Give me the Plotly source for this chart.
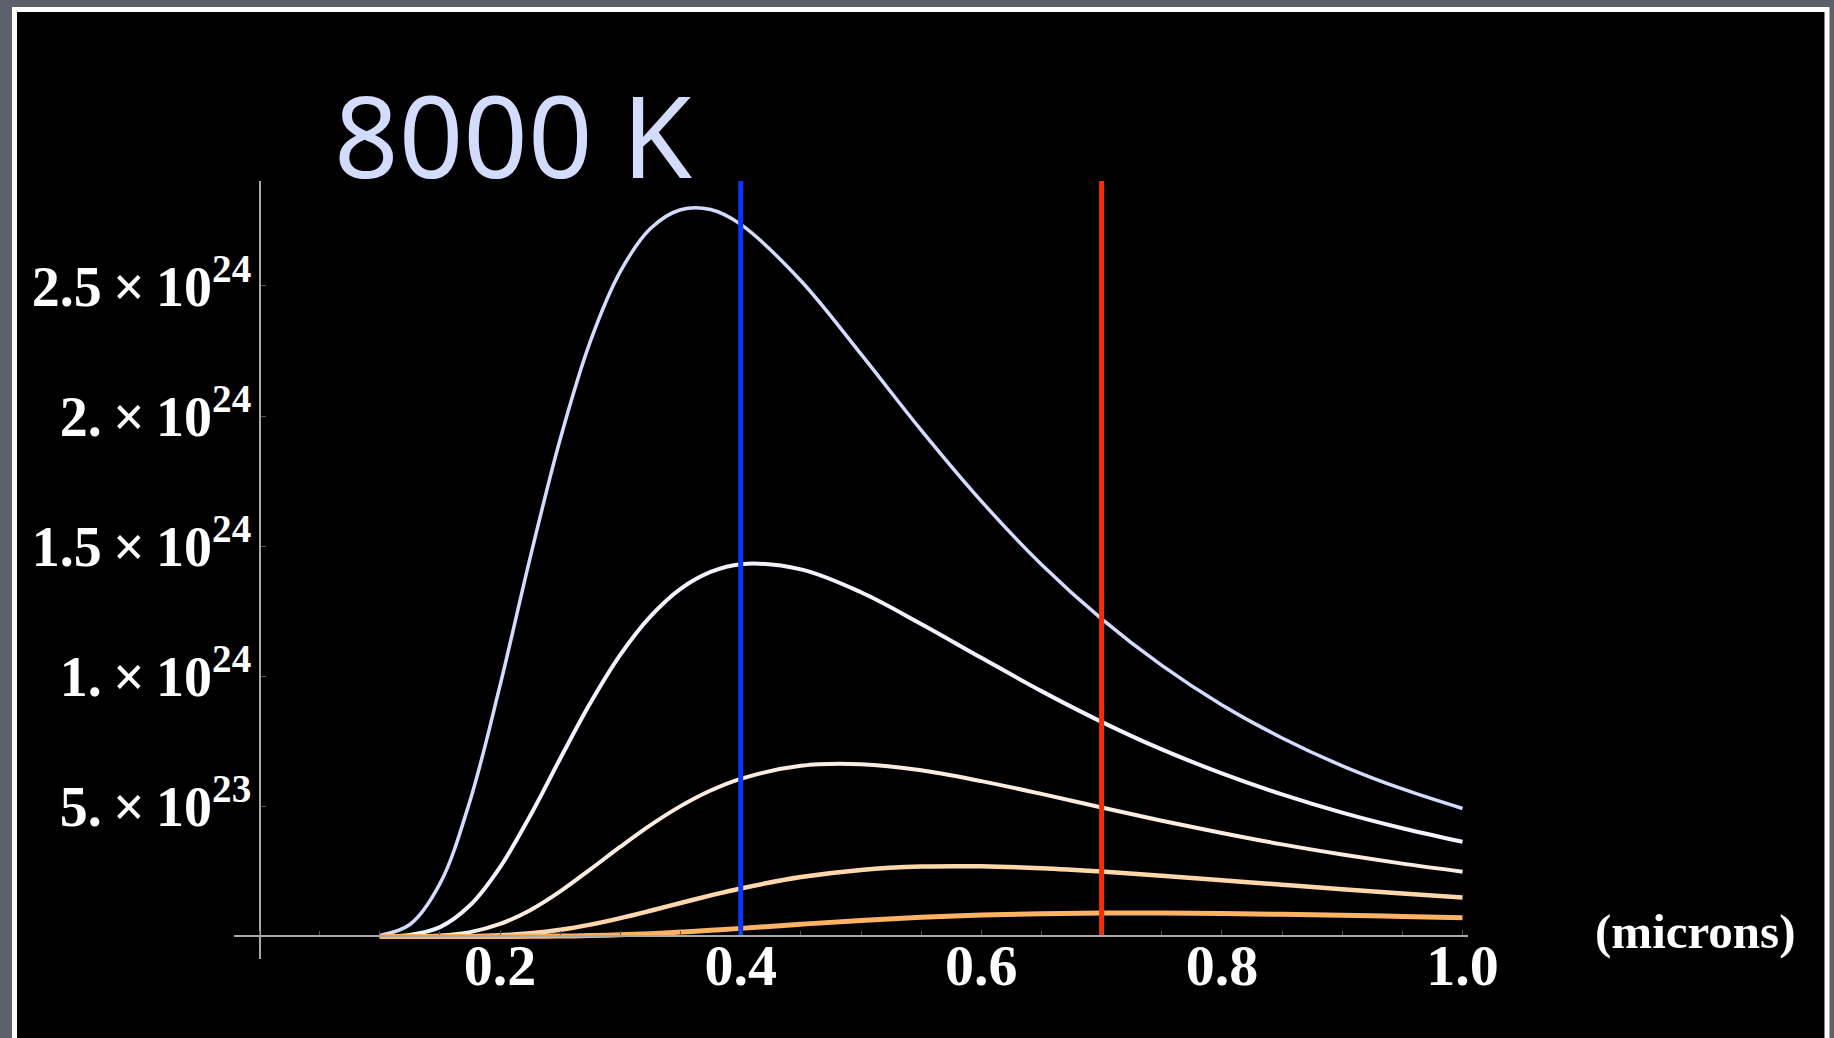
import plotly.graph_objects as go

# ---------------- data ----------------
wavelength_um = [0.10, 0.125, 0.15, 0.175, 0.20, 0.225, 0.25, 0.275, 0.30, 0.325,
                 0.35, 0.375, 0.40, 0.45, 0.50, 0.55, 0.60, 0.65, 0.70, 0.75,
                 0.80, 0.85, 0.90, 0.95, 1.00]

# intensity, in units of 10^24
curve_8000K = [0.0038, 0.046, 0.203, 0.522, 0.966, 1.456, 1.912, 2.287, 2.556, 2.721,
               2.793, 2.794, 2.737, 2.520, 2.238, 1.946, 1.673, 1.430, 1.221, 1.042,
               0.890, 0.763, 0.656, 0.567, 0.492]
curve_7000K = [0.0003, 0.0058, 0.036, 0.120, 0.267, 0.464, 0.684, 0.897, 1.083, 1.230,
               1.336, 1.401, 1.431, 1.411, 1.323, 1.201, 1.071, 0.943, 0.825, 0.719,
               0.627, 0.546, 0.476, 0.416, 0.364]
curve_6000K = [0.0, 0.0004, 0.0037, 0.0169, 0.0482, 0.1012, 0.1735, 0.258, 0.345, 0.428,
               0.501, 0.561, 0.606, 0.656, 0.662, 0.639, 0.597, 0.548, 0.496, 0.445,
               0.398, 0.354, 0.315, 0.280, 0.249]
curve_5000K = [0.0, 0.0, 0.0002, 0.0011, 0.0044, 0.0122, 0.0258, 0.0457, 0.0707, 0.0991,
               0.1288, 0.1579, 0.1847, 0.2283, 0.2558, 0.2687, 0.2697, 0.2623, 0.2496, 0.2338,
               0.2164, 0.1989, 0.1817, 0.1653, 0.1501]
curve_4000K = [0.0, 0.0, 0.0, 0.00002, 0.00012, 0.0005, 0.0015, 0.0034, 0.0066, 0.011,
               0.0168, 0.0236, 0.0312, 0.047, 0.0617, 0.0738, 0.0824, 0.0877, 0.0901, 0.0901,
               0.0883, 0.0853, 0.0814, 0.0770, 0.0723]

marker_wavelengths = [0.4, 0.7]          # blue and red limits of the visible band
marker_top = 2.9035                       # top of the marker lines (10^24)

x_tick_vals = [0.2, 0.4, 0.6, 0.8, 1.0]
x_tick_text = ["0.2", "0.4", "0.6", "0.8", "1.0"]
y_tick_vals = [0.5, 1.0, 1.5, 2.0, 2.5]
y_tick_text = ["5.\u2009×\u200910<sup>23</sup>", "1.\u2009×\u200910<sup>24</sup>",
               "1.5\u2009×\u200910<sup>24</sup>", "2.\u2009×\u200910<sup>24</sup>",
               "2.5\u2009×\u200910<sup>24</sup>"]

title_text = "8000 K"
x_unit_text = "(microns)"

# ---------------- styling ----------------
curves = [
    (curve_8000K, "#d3dbff", 3.5),
    (curve_7000K, "#f4f2ff", 4),
    (curve_6000K, "#ffece0", 4),
    (curve_5000K, "#ffd7aa", 4.5),
    (curve_4000K, "#ffb263", 5),
]
marker_colors = ["#0a34ff", "#ff2a00"]

SERIF = "Liberation Serif, Times New Roman, serif"

fig = go.Figure()
for ys, col, w in curves:
    fig.add_trace(go.Scatter(x=wavelength_um, y=ys, mode="lines",
                             line=dict(color=col, width=w, shape="spline", smoothing=1.0),
                             hoverinfo="skip"))
for xv, col in zip(marker_wavelengths, marker_colors):
    fig.add_trace(go.Scatter(x=[xv, xv], y=[0, marker_top], mode="lines",
                             line=dict(color=col, width=5), hoverinfo="skip"))

x_range = [-0.0212, 1.00457]
y_range = [-0.0865, 2.9035]
x_zero_frac = (0 - x_range[0]) / (x_range[1] - x_range[0])
y_zero_frac = (0 - y_range[0]) / (y_range[1] - y_range[0])

fig.update_layout(
    width=1834, height=1038,
    margin=dict(l=234, r=366, t=181, b=79, autoexpand=False),
    paper_bgcolor="#5b606b",
    plot_bgcolor="black",
    showlegend=False,
    xaxis=dict(range=x_range, anchor="free", position=y_zero_frac,
               showline=True, linecolor="#a8a8a8", linewidth=2,
               showgrid=False, zeroline=False,
               tickvals=x_tick_vals, ticktext=["<b>%s</b>" % t for t in x_tick_text],
               ticks="inside", ticklen=5, tickcolor="#555", tickwidth=1,
               minor=dict(dtick=0.05, tick0=0, ticks="inside", ticklen=4,
                          tickcolor="#555", tickwidth=1),
               ticklabelstandoff=-22,
               tickfont=dict(family=SERIF, size=58, color="white"),
               automargin=False),
    yaxis=dict(range=y_range, anchor="free", position=x_zero_frac,
               showline=True, linecolor="#a8a8a8", linewidth=2,
               showgrid=False, zeroline=False,
               tickvals=y_tick_vals, ticktext=["<b>%s</b>" % t for t in y_tick_text],
               ticks="inside", ticklen=5, tickcolor="#555", tickwidth=1,
               ticklabelstandoff=-4,
               tickfont=dict(family=SERIF, size=56, color="white"),
               automargin=False),
    shapes=[dict(type="rect", xref="paper", yref="paper",
                 x0=-0.17788, x1=1.29092, y0=-0.1105, y1=1.2204,
                 line=dict(color="white", width=5), fillcolor="black", layer="below")],
    annotations=[
        dict(text=title_text, xref="paper", yref="paper", x=0.0795, y=1.061,
             xanchor="left", yanchor="middle", showarrow=False,
             font=dict(family="Noto Sans, DejaVu Sans, sans-serif", size=113, color="#d3dbff")),
        dict(text="<b>%s</b>" % x_unit_text, xref="paper", yref="y", x=1.1013, y=0.02,
             xanchor="left", yanchor="middle", showarrow=False,
             font=dict(family=SERIF, size=49, color="white")),
    ],
)

fig.write_html("out.html", config={"displayModeBar": False},
               post_script="document.body.style.margin='0';document.body.style.overflow='hidden';")
